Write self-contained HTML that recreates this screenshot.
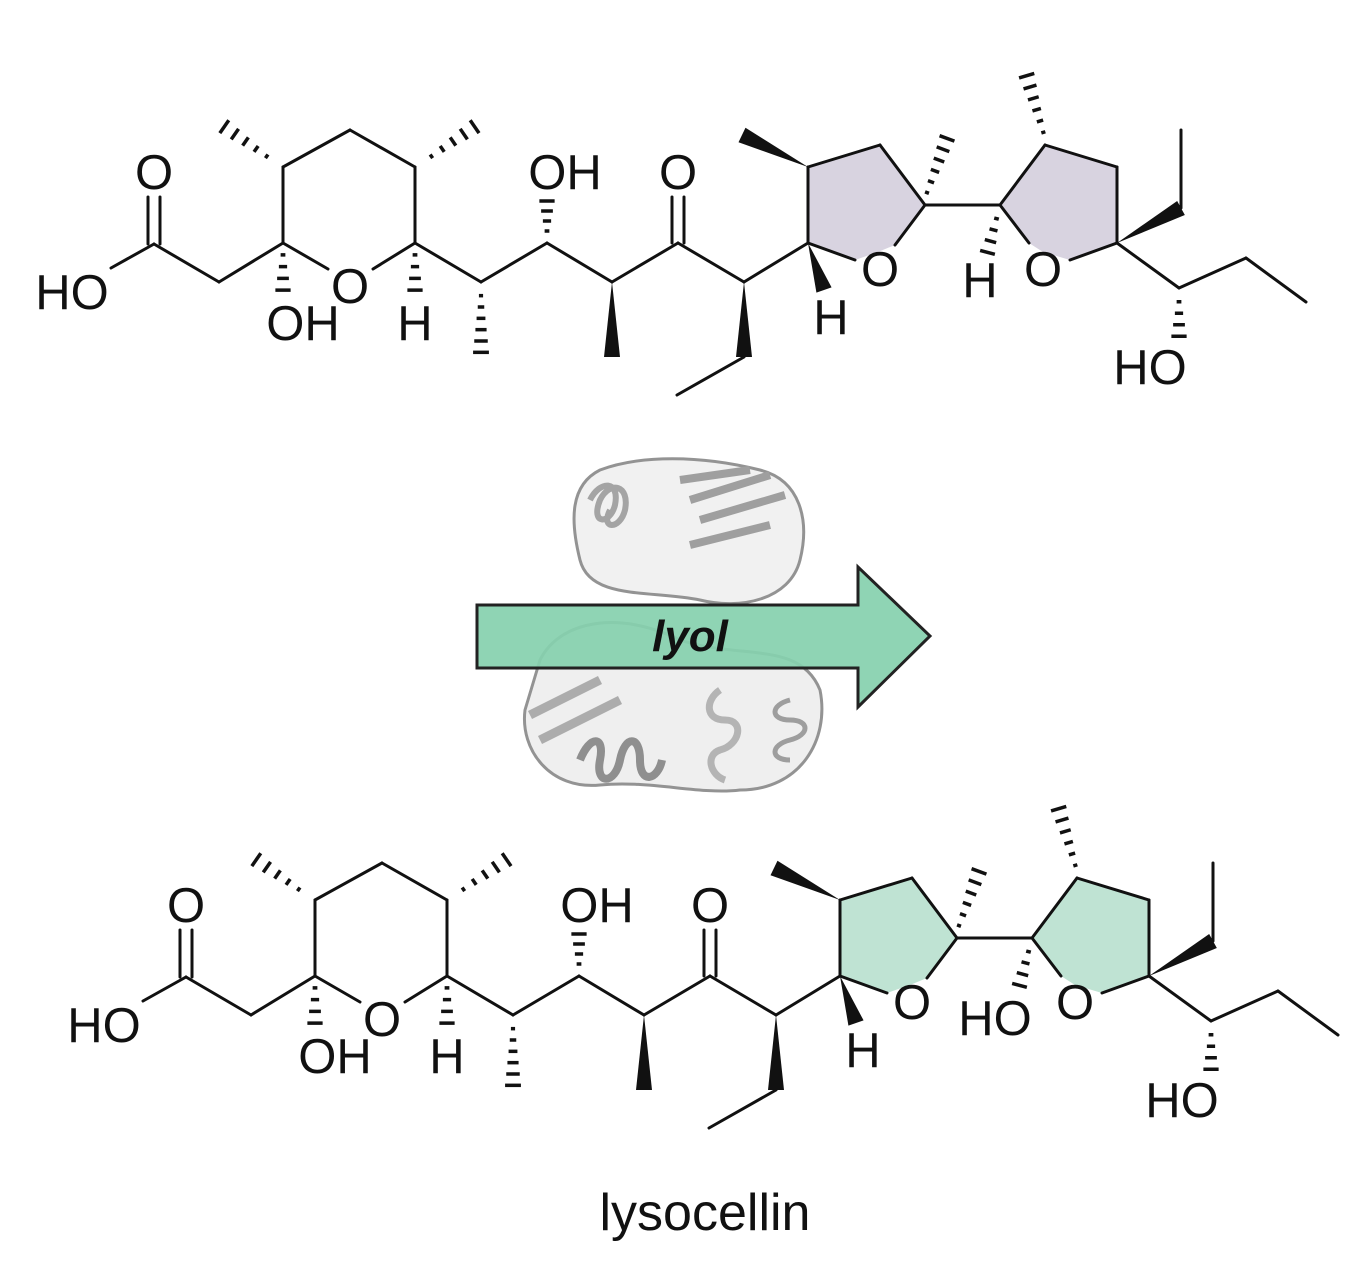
<!DOCTYPE html>
<html><head><meta charset="utf-8"><style>
html,body{margin:0;padding:0;background:#fff;}
svg{display:block;}
text{font-family:"Liberation Sans",Arial,sans-serif;fill:#111;}
</style></head><body>
<svg id="s" width="1370" height="1266" viewBox="0 0 1370 1266" xmlns="http://www.w3.org/2000/svg">
<!-- protein -->
<g fill="none" stroke="#8e8e8e" stroke-width="3" opacity="0.95">
<path d="M600 470 C640 455 700 455 760 470 C800 480 810 520 800 560 C790 600 740 610 700 600 C650 590 590 600 580 560 C570 520 570 485 600 470Z" fill="#f1f1f1"/>
<path d="M540 660 C560 620 620 610 680 640 C740 660 800 640 820 690 C830 740 800 790 740 790 C700 795 650 780 600 785 C550 790 520 750 525 710Z" fill="#efefef"/>
<path d="M590 500 c10 -20 30 -20 25 5 c-5 20 -25 20 -15 -5 c10 -20 30 -15 25 10 c-5 20 -25 20 -15 0" stroke="#a0a0a0" stroke-width="6"/>
<path d="M680 480 l70 -10 M690 500 l80 -25 M700 520 l85 -25 M690 545 l80 -20" stroke="#9a9a9a" stroke-width="8"/>
<path d="M580 760 c10 -25 25 -25 20 0 c-5 25 15 25 20 0 c5 -25 20 -25 20 0 c0 25 18 20 22 0" stroke="#8a8a8a" stroke-width="8"/>
<path d="M540 740 l80 -40 M530 715 l70 -35" stroke="#a8a8a8" stroke-width="9"/>
<path d="M790 700 c-20 5 -20 20 0 20 c20 0 20 15 0 20 c-20 5 -20 20 0 20" stroke="#999" stroke-width="5"/>
<path d="M720 690 c-15 10 -15 30 5 30 c20 0 15 25 -5 30 c-15 5 -10 25 5 30" stroke="#b0b0b0" stroke-width="7"/>
</g>
<!-- arrow -->
<polygon points="477,605 858,605 858,567 930,636 858,707 858,668 477,668" fill="#86d0ae" fill-opacity="0.92" stroke="#222" stroke-width="3" stroke-linejoin="miter"/>
<text x="690" y="651" font-size="44" font-weight="bold" font-style="italic" text-anchor="middle">lyol</text>
<g id="top"></g>
<g id="bot" transform="translate(32,733)"></g>
<text x="705" y="1230" font-size="52" text-anchor="middle">lysocellin</text>
</svg>
<script>
var NS="http://www.w3.org/2000/svg";
function el(p,n,a,t){var e=document.createElementNS(NS,n);for(var k in a)e.setAttribute(k,a[k]);if(t)e.textContent=t;p.appendChild(e);return e;}
function build(g,bottom){
  var fill=bottom?"#bfe3d3":"#d8d3e0";
  el(g,"polygon",{points:"808,243 808,167 880,145 925,205 895,245 878,252 855,260",fill:fill});
  el(g,"polygon",{points:"1000,205 1045,145 1117,167 1117,243 1070,260 1043,252 1029,243",fill:fill});
  var L=[[111,268,154,244],[154,244,219,282],[219,282,283,243],[283,243,328,269],[373,269,415,243],
  [283,243,283,167],[283,167,350,130],[350,130,415,167],[415,167,415,243],[415,243,481,282],[481,282,547,243],
  [547,243,612,282],[612,282,678,243],[678,243,744,282],[744,357,677,395],[744,282,808,243],
  [808,243,855,260],[895,245,925,205],[808,243,808,167],[808,167,880,145],[880,145,925,205],[925,205,1000,205],
  [1000,205,1029,243],[1070,260,1117,243],[1000,205,1045,145],[1045,145,1117,167],[1117,167,1117,243],
  [1181,208,1181,130],[1117,243,1179,288],[1179,288,1246,258],[1246,258,1306,302],
  [148,244,148,197],[160,244,160,197],[672,243,672,197],[684,243,684,197]];
  L.forEach(function(l){el(g,"line",{x1:l[0],y1:l[1],x2:l[2],y2:l[3],stroke:"#111","stroke-width":3,"stroke-linecap":"round"});});
  var H=[[283,249,283,296],[272,160,219,123],[426,160,480,123],[415,249,415,296],[481,290,481,358],[547,236,547,196],
  [925,198,949,133],[998,213,986,258],[1045,138,1025,70],[1179,296,1179,342]];
  H.forEach(function(h){var dx=h[2]-h[0],dy=h[3]-h[1],len=Math.hypot(dx,dy),ux=dx/len,uy=dy/len,px=-uy,py=ux;
    var n=Math.max(4,Math.round(len/12));
    for(var i=0;i<n;i++){var t=(i+0.5)/n,cx=h[0]+dx*t,cy=h[1]+dy*t,w=1.5+7*t;
      el(g,"line",{x1:cx-px*w,y1:cy-py*w,x2:cx+px*w,y2:cy+py*w,stroke:"#111","stroke-width":3.5});}});
  var W=[[612,282,612,357],[744,282,744,357],[808,243,824,290],[808,167,742,135],[1117,243,1181,208]];
  W.forEach(function(w){var dx=w[2]-w[0],dy=w[3]-w[1],len=Math.hypot(dx,dy),px=-dy/len,py=dx/len,k=8;
    el(g,"polygon",{points:w[0]+","+w[1]+" "+(w[2]+px*k)+","+(w[3]+py*k)+" "+(w[2]-px*k)+","+(w[3]-py*k),fill:"#111"});});
  var T=[["HO",72,292],["O",154,172],["OH",303,323],["O",350,286],["H",415,323],["OH",565,172],["O",678,172],
  ["H",831,317],["O",880,269],["O",1043,269],["HO",1150,367]];
  if(bottom)T.push(["HO",963,285]);else T.push(["H",980,280]);
  T.forEach(function(t){el(g,"text",{x:t[1],y:t[2]+17,"font-size":49,"text-anchor":"middle"},t[0]);});
}
build(document.getElementById("top"),false);
build(document.getElementById("bot"),true);
</script>
</body></html>
